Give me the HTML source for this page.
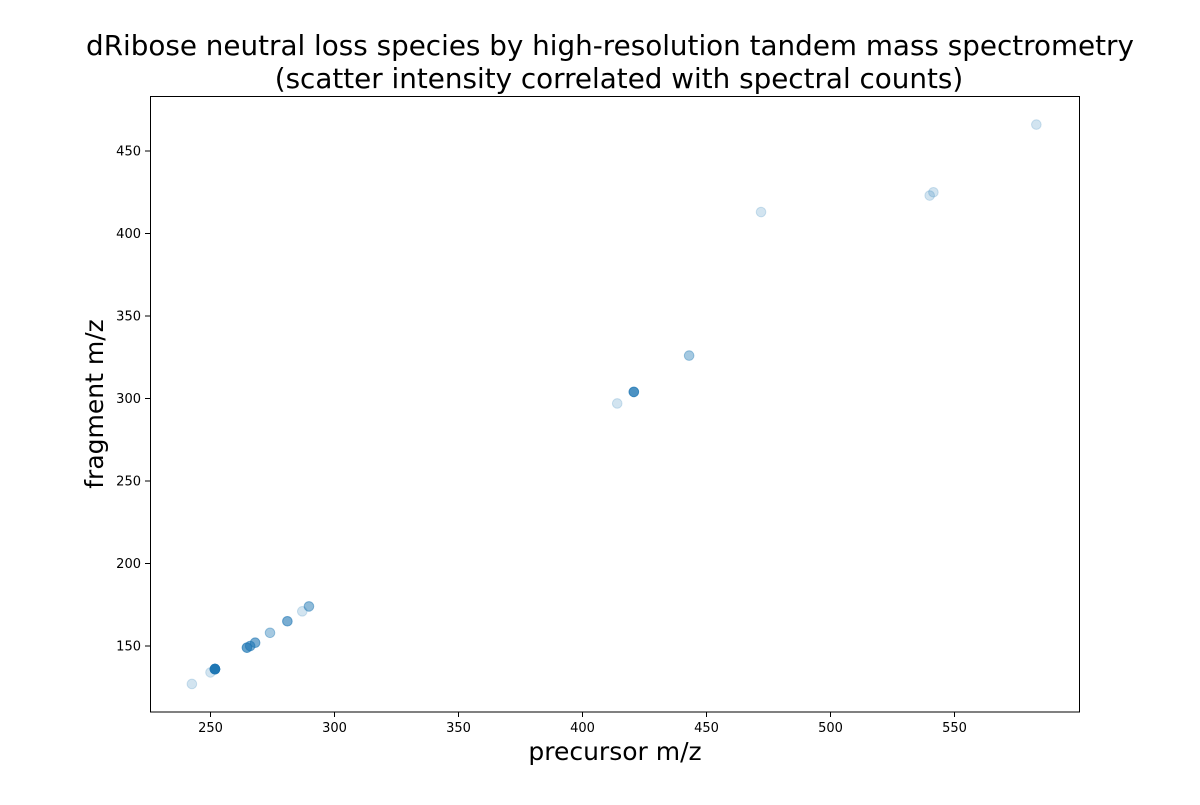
<!DOCTYPE html>
<html><head><meta charset="utf-8"><style>
body{margin:0;background:#fff;}
svg text{font-family:"DejaVu Sans","Liberation Sans",sans-serif;fill:#000;}
</style></head><body>
<svg width="1200" height="800" xmlns="http://www.w3.org/2000/svg">
<rect width="1200" height="800" fill="#fff"/>
<text x="610" y="55" text-anchor="middle" font-size="27.8">dRibose neutral loss species by high-resolution tandem mass spectrometry</text>
<text x="619" y="88" text-anchor="middle" font-size="27.8">(scatter intensity correlated with spectral counts)</text>
<g id="marks"></g>
<rect x="150.5" y="96.5" width="929" height="615.5" fill="none" stroke="#000" stroke-width="1"/>
<g id="xt"></g>
<g id="yt"></g>
<text x="615" y="760" text-anchor="middle" font-size="25">precursor m/z</text>
<text transform="translate(103,404) rotate(-90)" text-anchor="middle" font-size="25">fragment m/z</text>
</svg>
<script>
const precursor=[242.5,250,251.8,251.8,251.8,264.7,266,268,274,281,287,289.7,414,420.7,443,472,540,541.5,583];
const fragment=[127,134,136,136,136,149,150,152,158,165,171,174,297,304,326,413,423,425,466];
const intensity=[0.2,0.2,0.9,0.9,0.9,0.7,0.6,0.6,0.4,0.6,0.2,0.5,0.2,0.8,0.4,0.2,0.2,0.2,0.2];
const xTicks=[250,300,350,400,450,500,550];
const yTicks=[150,200,250,300,350,400,450];
const X=v=>210.5+(v-250)*2.48;
const Y=v=>646-(v-150)*1.65;
const NS="http://www.w3.org/2000/svg";
const mk=document.getElementById('marks');
precursor.forEach((p,i)=>{
 const c=document.createElementNS(NS,'circle');
 c.setAttribute('cx',X(p));c.setAttribute('cy',Y(fragment[i]));c.setAttribute('r',4.8);
 c.setAttribute('fill','#1f77b4');c.setAttribute('fill-opacity',intensity[i]);
 c.setAttribute('stroke','#1f77b4');c.setAttribute('stroke-opacity',intensity[i]);
 
 
 mk.appendChild(c);
});
const xt=document.getElementById('xt');
xTicks.forEach(t=>{
 const x=X(t);
 const l=document.createElementNS(NS,'line');
 l.setAttribute('x1',x);l.setAttribute('x2',x);l.setAttribute('y1',712);l.setAttribute('y2',717);l.setAttribute('stroke','#000');
 
 
 xt.appendChild(l);
 const s=document.createElementNS(NS,'text');
 s.setAttribute('x',x);s.setAttribute('y',732);s.setAttribute('text-anchor','middle');s.setAttribute('font-size','13');
 s.textContent=t;
 
 
 xt.appendChild(s);
});
const yt=document.getElementById('yt');
yTicks.forEach(t=>{
 const y=Y(t);
 const l=document.createElementNS(NS,'line');
 l.setAttribute('x1',145);l.setAttribute('x2',150);l.setAttribute('y1',y);l.setAttribute('y2',y);l.setAttribute('stroke','#000');
 
 
 yt.appendChild(l);
 const s=document.createElementNS(NS,'text');
 s.setAttribute('x',141);s.setAttribute('y',y+4.5);s.setAttribute('text-anchor','end');s.setAttribute('font-size','13');
 s.textContent=t;
 
 
 yt.appendChild(s);
});
</script>
</body></html>
